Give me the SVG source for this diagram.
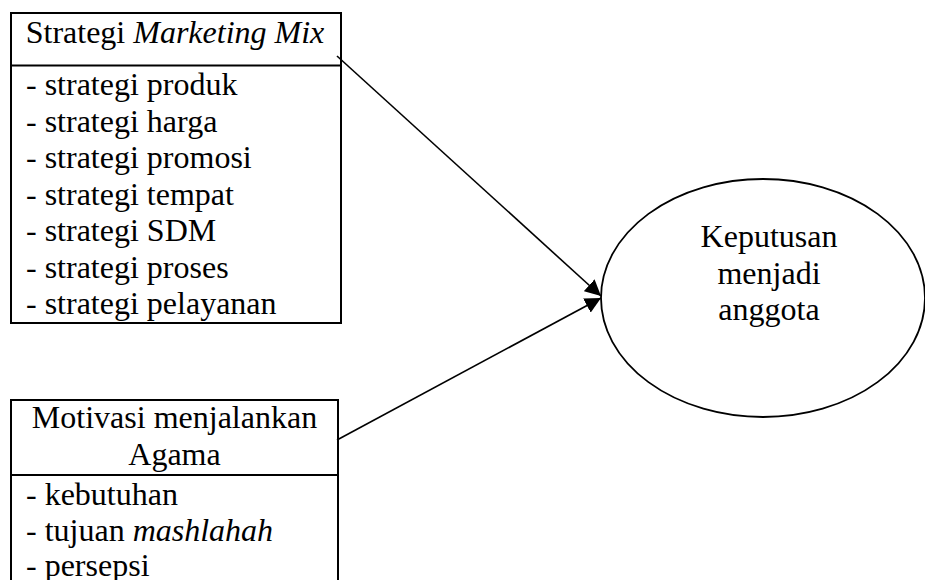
<svg xmlns="http://www.w3.org/2000/svg" width="925" height="580" viewBox="0 0 925 580">
<defs>
<marker id="arr" viewBox="0 0 10 10" refX="10" refY="5" markerWidth="16" markerHeight="16" markerUnits="userSpaceOnUse" orient="auto">
<path d="M0,0 L10,5 L0,10 z" fill="#000"/>
</marker>
<style>
text{font-family:"Liberation Serif","Times New Roman",serif;font-size:32px;fill:#000}
.box{fill:#fff;stroke:#000;stroke-width:2}
.c{text-anchor:middle}
.edge{stroke:#000;stroke-width:1.6;fill:none;marker-end:url(#arr)}
</style>
</defs>
<rect width="925" height="580" fill="#fff"/>
<g id="marketing-mix">
<rect class="box" x="11" y="13" width="330" height="310"/>
<line x1="11" y1="65.5" x2="341" y2="65.5" stroke="#000" stroke-width="2"/>
<text class="c" x="175" y="43">Strategi <tspan font-style="italic">Marketing Mix</tspan></text>
<text x="26" y="95">- strategi produk</text>
<text x="26" y="131.5">- strategi harga</text>
<text x="26" y="168">- strategi promosi</text>
<text x="26" y="204.5">- strategi tempat</text>
<text x="26" y="241">- strategi SDM</text>
<text x="26" y="277.5">- strategi proses</text>
<text x="26" y="314">- strategi pelayanan</text>
</g>
<g id="motivasi">
<rect class="box" x="11" y="400" width="327" height="200"/>
<line x1="11" y1="475" x2="338" y2="475" stroke="#000" stroke-width="2"/>
<text class="c" x="174.5" y="428">Motivasi menjalankan</text>
<text class="c" x="174.5" y="465">Agama</text>
<text x="26" y="505">- kebutuhan</text>
<text x="26" y="540.5">- tujuan <tspan font-style="italic">mashlahah</tspan></text>
<text x="26" y="576">- persepsi</text>
</g>
<g id="keputusan">
<ellipse cx="763" cy="298" rx="162" ry="119" fill="#fff" stroke="#000" stroke-width="1.8"/>
<text class="c" x="769" y="247">Keputusan</text>
<text class="c" x="769" y="283.7">menjadi</text>
<text class="c" x="769" y="320.4">anggota</text>
</g>
<g id="connectors">
<line class="edge" x1="337" y1="56" x2="601" y2="296"/>
<line class="edge" x1="337" y1="440" x2="601" y2="298"/>
</g>
</svg>
